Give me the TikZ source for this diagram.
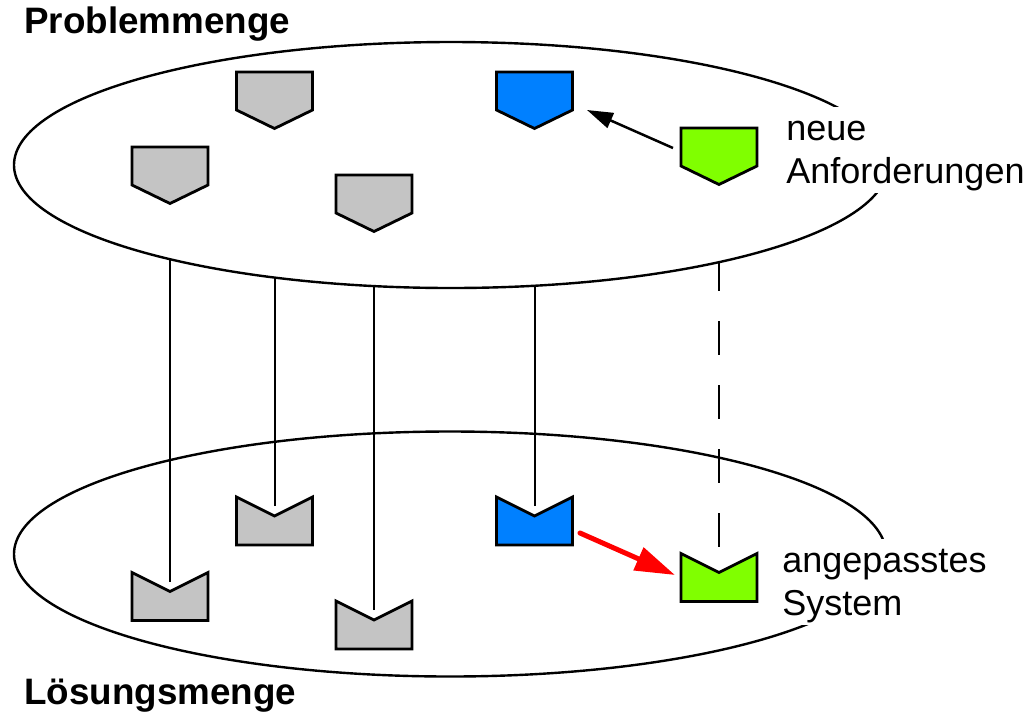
\documentclass[tikz,border=0pt]{standalone}
\usepackage{fontspec}
\setmainfont{Liberation Sans}
\usetikzlibrary{arrows.meta,calc}

\definecolor{grau}{HTML}{C4C4C4}
\definecolor{blau}{HTML}{0080FF}
\definecolor{gruen}{HTML}{80FF00}
\definecolor{rot}{HTML}{FF0000}

\tikzset{
  form/.style={line width=1.4pt},
  anf/.pic={\draw[form,fill=#1] (-38,0) -- (38,0) -- (38,38) -- (0,56.5) -- (-38,38) -- cycle;},
  loe/.pic={\draw[form,fill=#1] (-38,0) -- (0,19) -- (38,0) -- (38,48) -- (-38,48) -- cycle;},
  menge/.style={line width=1.2pt},
  linie/.style={line width=1pt},
  titel/.style={inner sep=0pt, anchor=base west, font=\fontsize{18.4}{22}\selectfont\bfseries},
  beschr/.style={fill=white, inner sep=1.5pt, anchor=base west, align=left, font=\fontsize{18}{21.5}\selectfont}
}

\begin{document}
\begin{tikzpicture}[x=0.5pt,y=-0.5pt]
\useasboundingbox (0,0) rectangle (1035,714);
% Mengen
\coordinate (po) at (451,165);
\coordinate (lo) at (450,554);
% Anforderungen (oben)
\coordinate (a1) at (274.5,72);
\coordinate (a2) at (170,147);
\coordinate (a3) at (374,175);
\coordinate (ab) at (534.5,72);
\coordinate (ag) at (719,128);
% Loesungen (unten)
\coordinate (l1) at (170,572.5);
\coordinate (l2) at (274.5,497);
\coordinate (l3) at (374,601);
\coordinate (lb) at (534.5,497);
\coordinate (lg) at (719,553.5);

\draw[menge] (lo) ellipse [x radius=436, y radius=122.5];
% Verbindungen
\foreach \s in {l1,l2,l3,lb}
  \draw[linie] ($(\s)+(0,9)$) -- (\s |- po);
\draw[linie, dash pattern=on 16.6pt off 15.4pt] ($(lg)+(0,-7)$) -- (lg |- po);
\draw[menge, fill=white] (po) ellipse [x radius=437, y radius=123];

% Formen
\foreach \s in {a1,a2,a3}
  \pic at (\s) {anf=grau};
\pic at (ab) {anf=blau};
\pic at (ag) {anf=gruen};
\foreach \s in {l1,l2,l3}
  \pic at (\s) {loe=grau};
\pic at (lb) {loe=blau};
\pic at (lg) {loe=gruen};

% Pfeile
\draw[line width=1.25pt, -{Triangle[length=13pt,width=8pt]}] ($(ag)+(-46,20)$) -- ($(ab)+(52.5,38)$);
\draw[rot, line width=2.5pt, line cap=round, -{Triangle[length=20pt,width=12pt]}] ($(lb)+(45.5,36)$) -- ($(lg)+(-44,21.5)$);

% Beschriftung
\node[titel] (pm) at (24,33) {Problemmenge};
\node[titel] (lm) at (24,704) {Lösungsmenge};
\node[beschr] (na) at (783,183) {\strut neue\\Anforderungen};
\node[beschr] (as) at (779,615) {\strut angepasstes\\System};
\end{tikzpicture}
\end{document}
